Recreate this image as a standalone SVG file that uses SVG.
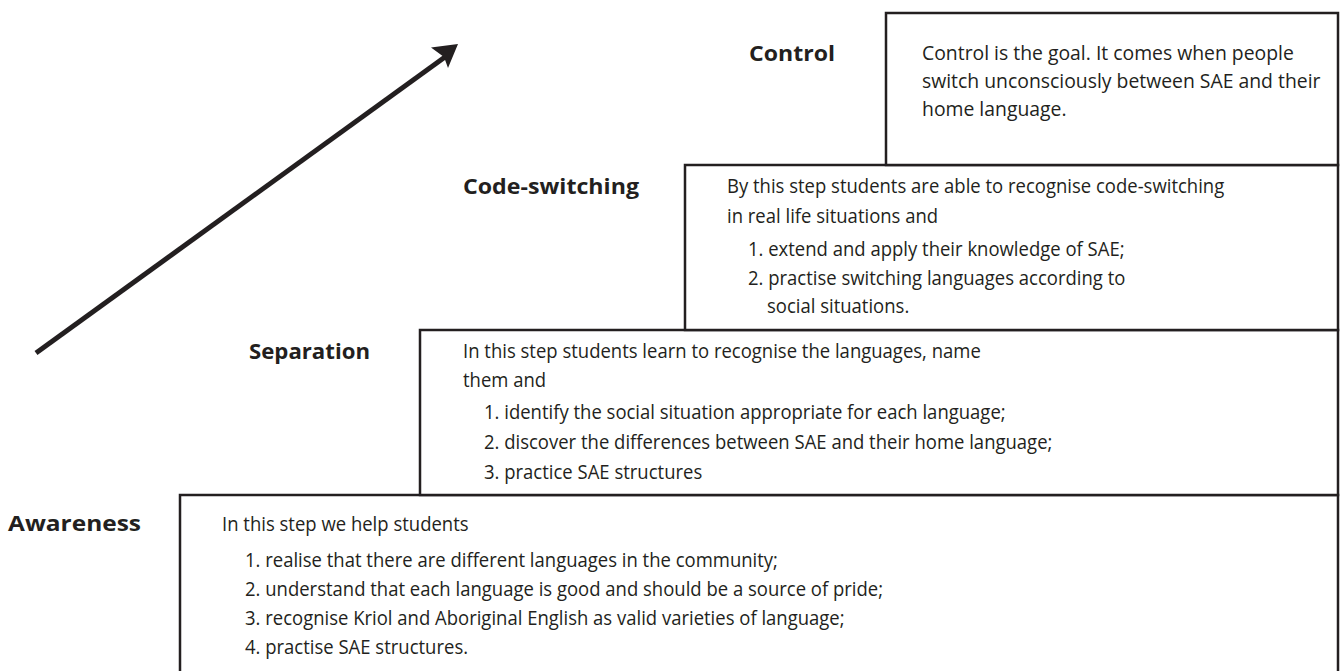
<svg xmlns="http://www.w3.org/2000/svg" width="1341" height="671" viewBox="0 0 1341 671">
<style>
.box{fill:#fff;stroke:#231f20;stroke-width:2.5}
.lbl{font-family:"Open Sans","Noto Sans",sans-serif;font-weight:bold;font-size:21px;fill:#231f20}
.txt{font-family:"Open Sans","Noto Sans",sans-serif;font-size:20px;fill:#231f20}
.ctl{font-size:20.5px}
</style>
<rect width="1341" height="671" fill="#fff"/>
<g id="connectors">
<path d="M36,353 L445,57" fill="none" stroke="#231f20" stroke-width="5"/>
<polygon points="458,44 431,47.5 444,57 448,68" fill="#231f20"/>
</g>
<g id="awareness">
<rect class="box" x="180" y="495" width="1158" height="200"/>
<text class="lbl" x="8" y="531" textLength="133" lengthAdjust="spacingAndGlyphs">Awareness</text>
<text class="txt" transform="translate(222,531) scale(0.925,1)">In this step we help students</text>
<text class="txt" transform="translate(245,567) scale(0.925,1)">1. realise that there are different languages in the community;</text>
<text class="txt" transform="translate(245,596) scale(0.925,1)">2. understand that each language is good and should be a source of pride;</text>
<text class="txt" transform="translate(245,625) scale(0.925,1)">3. recognise Kriol and Aboriginal English as valid varieties of language;</text>
<text class="txt" transform="translate(245,654) scale(0.925,1)">4. practise SAE structures.</text>
</g>
<g id="separation">
<rect class="box" x="420" y="330" width="918" height="165"/>
<text class="lbl" x="249" y="359" textLength="121" lengthAdjust="spacingAndGlyphs">Separation</text>
<text class="txt" transform="translate(463,358) scale(0.925,1)">In this step students learn to recognise the languages, name</text>
<text class="txt" transform="translate(463,387) scale(0.925,1)">them and</text>
<text class="txt" transform="translate(484,419) scale(0.925,1)">1. identify the social situation appropriate for each language;</text>
<text class="txt" transform="translate(484,449) scale(0.925,1)">2. discover the differences between SAE and their home language;</text>
<text class="txt" transform="translate(484,479) scale(0.925,1)">3. practice SAE structures</text>
</g>
<g id="code-switching">
<rect class="box" x="685" y="165" width="653" height="165"/>
<text class="lbl" x="463" y="194" textLength="176" lengthAdjust="spacingAndGlyphs">Code-switching</text>
<text class="txt" transform="translate(727,193) scale(0.925,1)">By this step students are able to recognise code-switching</text>
<text class="txt" transform="translate(727,223) scale(0.925,1)">in real life situations and</text>
<text class="txt" transform="translate(748,256) scale(0.925,1)">1. extend and apply their knowledge of SAE;</text>
<text class="txt" transform="translate(748,285) scale(0.925,1)">2. practise switching languages according to</text>
<text class="txt" transform="translate(767,313) scale(0.925,1)">social situations.</text>
</g>
<g id="control">
<rect class="box" x="886" y="13" width="452" height="152"/>
<text class="lbl" x="749" y="61" textLength="86" lengthAdjust="spacingAndGlyphs">Control</text>
<text class="txt ctl" transform="translate(922,60) scale(0.945,1)">Control is the goal. It comes when people</text>
<text class="txt ctl" transform="translate(922,88) scale(0.945,1)">switch unconsciously between SAE and their</text>
<text class="txt ctl" transform="translate(922,116) scale(0.945,1)">home language.</text>
</g>
</svg>
